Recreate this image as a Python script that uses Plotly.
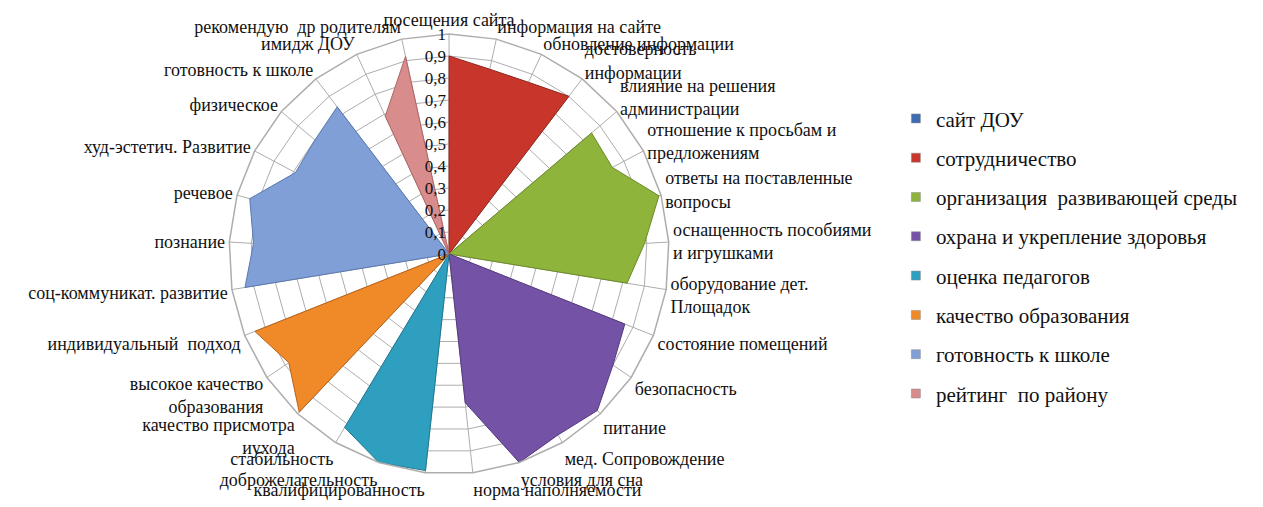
import plotly.graph_objects as go

categories = [
    "посещения сайта",
    "информация на сайте",
    "обновление информации",
    "достоверность<br>информации",
    "влияние на решения<br>администрации",
    "отношение к просьбам и<br>предложениям",
    "ответы на поставленные<br>вопросы",
    "оснащенность пособиями<br>и игрушками",
    "оборудование дет.<br>Площадок",
    "состояние помещений",
    "безопасность",
    "питание",
    "мед. Сопровождение",
    "условия для сна",
    "норма наполняемости",
    "квалифицированность",
    "доброжелательность",
    "стабильность",
    "качество присмотра<br>иухода",
    "высокое качество<br>образования",
    "индивидуальный  подход",
    "соц-коммуникат. развитие",
    "познание",
    "речевое",
    "худ-эстетич. Развитие",
    "физическое",
    "готовность к школе",
    "имидж ДОУ",
    "рекомендую  др родителям",
]

series_names = [
    "сайт ДОУ",
    "сотрудничество",
    "организация  развивающей среды",
    "охрана и укрепление здоровья",
    "оценка педагогов",
    "качество образования",
    "готовность к школе",
    "рейтинг  по району",
]

site_dou = [0, 0, 0, 0, 0, 0, 0, 0, 0, 0, 0, 0, 0, 0, 0, 0, 0, 0, 0, 0, 0, 0, 0, 0, 0, 0, 0, 0, 0]
cooperation = [0.90, 0.86, 0.86, 0.90, 0, 0, 0, 0, 0, 0, 0, 0, 0, 0, 0, 0, 0, 0, 0, 0, 0, 0, 0, 0, 0, 0, 0, 0, 0]
environment = [0, 0, 0, 0, 0.85, 0.84, 0.99, 0.89, 0.82, 0, 0, 0, 0, 0, 0, 0, 0, 0, 0, 0, 0, 0, 0, 0, 0, 0, 0, 0, 0]
health = [0, 0, 0, 0, 0, 0, 0, 0, 0, 0.86, 0.90, 0.98, 0.96, 1.00, 0.68, 0, 0, 0, 0, 0, 0, 0, 0, 0, 0, 0, 0, 0, 0]
teachers = [0, 0, 0, 0, 0, 0, 0, 0, 0, 0, 0, 0, 0, 0, 0, 0.99, 1.00, 0.92, 0, 0, 0, 0, 0, 0, 0, 0, 0, 0, 0]
education = [0, 0, 0, 0, 0, 0, 0, 0, 0, 0, 0, 0, 0, 0, 0, 0, 0, 0, 0.99, 0.88, 0.95, 0, 0, 0, 0, 0, 0, 0, 0]
school_ready = [0, 0, 0, 0, 0, 0, 0, 0, 0, 0, 0, 0, 0, 0, 0, 0, 0, 0, 0, 0, 0, 0.94, 0.89, 0.94, 0.79, 0.80, 0.84, 0, 0]
rating = [0, 0, 0, 0, 0, 0, 0, 0, 0, 0, 0, 0, 0, 0, 0, 0, 0, 0, 0, 0, 0, 0, 0, 0, 0, 0, 0, 0.69, 0.92]

radial_ticks = [0, 0.1, 0.2, 0.3, 0.4, 0.5, 0.6, 0.7, 0.8, 0.9, 1]

all_series = [site_dou, cooperation, environment, health, teachers, education, school_ready, rating]
fill_colors = ["#3f6cb0", "#c8352b", "#8fb43c", "#7453a6", "#2f9fc0", "#f08a28", "#7f9fd6", "#d88c8c"]
edge_colors = ["#2e5390", "#8f2620", "#6a8a28", "#55397f", "#1f7890", "#b8621a", "#5a78b0", "#b06464"]

SERIF = "Liberation Serif, Times New Roman, serif"

fig = go.Figure()

for name, vals, fc, ec in zip(series_names, all_series, fill_colors, edge_colors):
    fig.add_trace(go.Scatterpolar(
        r=vals + [vals[0]],
        theta=categories + [categories[0]],
        mode="lines",
        fill="toself",
        fillcolor=fc,
        line=dict(color=ec, width=1),
        name=name,
        showlegend=False,
        hoverinfo="skip",
    ))

# legend-only entries (a single null point, nothing drawn)
for name, fc in zip(series_names, fill_colors):
    fig.add_trace(go.Scatterpolar(
        r=[None], theta=[categories[0]],
        mode="markers",
        marker=dict(symbol="square", size=9, color=fc, line=dict(color="#888888", width=0.5)),
        name=name,
        legendgroup=name,
        showlegend=True,
        hoverinfo="skip",
    ))

fig.update_layout(
    width=1263,
    height=507,
    margin=dict(l=0, r=0, t=0, b=0),
    paper_bgcolor="white",
    plot_bgcolor="white",
    separators=", ",
    font=dict(family=SERIF, size=18, color="#111111"),
    polar=dict(
        domain=dict(x=[0.175, 0.5234], y=[0.0808, 0.9488]),
        bgcolor="white",
        gridshape="linear",
        angularaxis=dict(
            direction="clockwise",
            rotation=90,
            type="category",
            categoryorder="array",
            categoryarray=categories,
            showgrid=True,
            gridcolor="#adadad",
            gridwidth=1,
            showline=True,
            linecolor="#adadad",
            linewidth=1.5,
            ticks="",
            tickfont=dict(family=SERIF, size=18, color="#111111"),
        ),
        radialaxis=dict(
            range=[0, 1],
            tickvals=radial_ticks,
            angle=90,
            tickangle=90,
            side="counterclockwise",
            showline=False,
            showgrid=True,
            gridcolor="#adadad",
            gridwidth=1,
            ticks="",
            tickfont=dict(family=SERIF, size=17, color="#111111"),
        ),
    ),
    legend=dict(
        x=0.703,
        y=0.822,
        xanchor="left",
        yanchor="top",
        font=dict(family=SERIF, size=21, color="#111111"),
        tracegroupgap=9,
        bgcolor="rgba(0,0,0,0)",
    ),
)

fig.write_html("out.html")
